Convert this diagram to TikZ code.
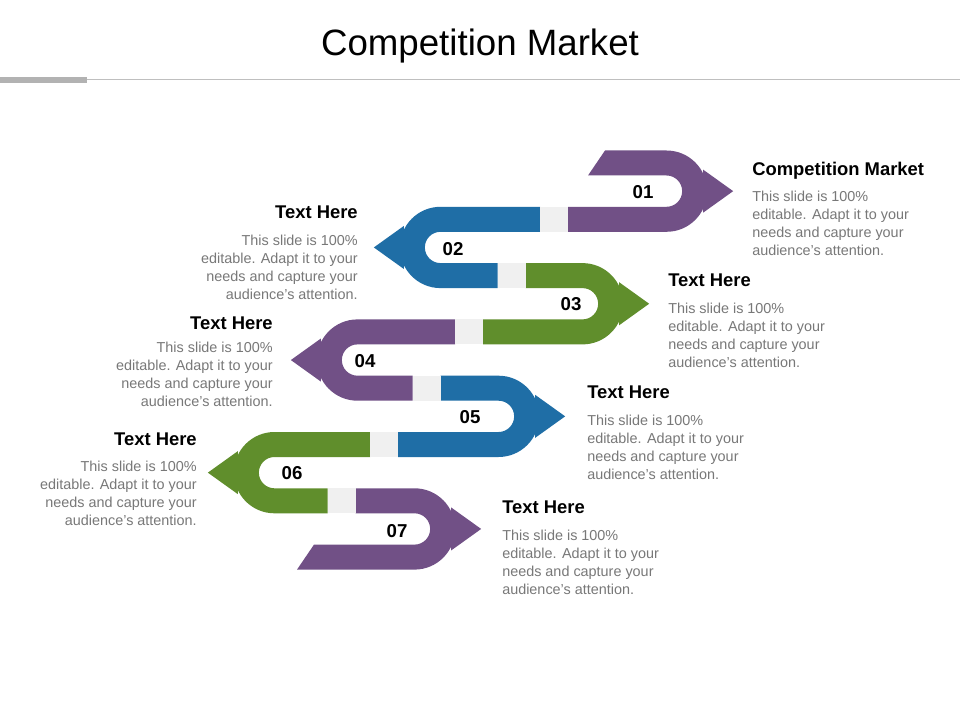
\documentclass[tikz,border=0pt]{standalone}
\usepackage{fontspec}
\setmainfont{Liberation Sans}
\definecolor{cpur}{RGB}{113,80,134}
\definecolor{cblu}{RGB}{31,110,166}
\definecolor{cgrn}{RGB}{96,142,44}
\definecolor{cgap}{RGB}{240,240,240}
\definecolor{cbody}{RGB}{120,120,120}
\newcommand{\Rr}{40.65}
\newcommand{\rr}{15.65}
% right U: cx cy xtop xbot color
\newcommand{\rseg}[5]{%
 \fill[#5] (#3,#2-\Rr) -- (#1,#2-\Rr) arc[start angle=-90,end angle=90,radius=\Rr] -- (#4,#2+\Rr) -- (#4,#2+\rr) -- (#1,#2+\rr) arc[start angle=90,end angle=-90,radius=\rr] -- (#3,#2-\rr) -- cycle;
 \fill[#5] (#1+\Rr-4,#2-21.5) -- (#1+\Rr+26,#2) -- (#1+\Rr-4,#2+21.5) -- cycle;}
\newcommand{\lseg}[5]{%
 \fill[#5] (#3,#2-\Rr) -- (#1,#2-\Rr) arc[start angle=270,end angle=90,radius=\Rr] -- (#4,#2+\Rr) -- (#4,#2+\rr) -- (#1,#2+\rr) arc[start angle=90,end angle=270,radius=\rr] -- (#3,#2-\rr) -- cycle;
 \fill[#5] (#1-\Rr+4,#2-21.5) -- (#1-\Rr-26,#2) -- (#1-\Rr+4,#2+21.5) -- cycle;}
\tikzset{num/.style={font=\fontsize{14pt}{16pt}\selectfont\bfseries},
 head/.style={font=\fontsize{13.8pt}{15pt}\selectfont\bfseries,inner sep=0pt},
 body/.style={font=\fontsize{10.8pt}{13.5pt}\selectfont,text=cbody,inner sep=0pt}}
\newcommand{\bodytxt}{This slide is 100\%\\editable. Adapt it to your\\needs and capture your\\audience's attention.}
\begin{document}
\begin{tikzpicture}[x=0.75pt,y=-0.75pt]
\useasboundingbox (0,0) rectangle (960,720);
\fill[white] (0,0) rectangle (960,720);
\node[font=\fontsize{27.5pt}{32pt}\selectfont] (title) at (480,46) {Competition Market};
\draw[gray!50,line width=0.75pt] (0,80) -- (960,80);
\fill[gray!60] (0,77) rectangle (87,83);
% segments
\fill[cpur] (605,150.5) -- (666.5,150.5) arc[start angle=-90,end angle=90,radius=\Rr] -- (568,231.8) -- (568,206.8) -- (666.5,206.8) arc[start angle=90,end angle=-90,radius=\rr] -- (588,175.5) -- cycle;
\fill[cpur] (666.5+\Rr-4,191.15-21.5) -- (666.5+\Rr+26,191.15) -- (666.5+\Rr-4,191.15+21.5) -- cycle;
\lseg{440.5}{247.45}{540}{497.5}{cblu}
\rseg{582.5}{303.75}{525.5}{483}{cgrn}
\lseg{357.5}{360.05}{455}{412.5}{cpur}
\rseg{498.5}{416.35}{440.5}{398}{cblu}
\lseg{274.5}{472.65}{370}{327.5}{cgrn}
\fill[cpur] (355.5,488.3) -- (414.5,488.3) arc[start angle=-90,end angle=90,radius=\Rr] -- (297,569.6) -- (314,544.6) -- (414.5,544.6) arc[start angle=90,end angle=-90,radius=\rr] -- (355.5,513.3) -- cycle;
\fill[cpur] (414.5+\Rr-4,528.95-21.5) -- (414.5+\Rr+26,528.95) -- (414.5+\Rr-4,528.95+21.5) -- cycle;
% gaps
\fill[cgap] (540,206.8) rectangle (568,231.8);
\fill[cgap] (497.5,263.1) rectangle (525.5,288.1);
\fill[cgap] (455,319.4) rectangle (483,344.4);
\fill[cgap] (412.5,375.7) rectangle (440.5,400.7);
\fill[cgap] (370,432) rectangle (398,457);
\fill[cgap] (327.5,488.3) rectangle (355.5,513.3);
% numbers
\node[num] (n1) at (643,192) {01};
\node[num] (n2) at (453,249) {02};
\node[num] (n3) at (571,304) {03};
\node[num] (n4) at (365,361) {04};
\node[num] (n5) at (470,417) {05};
\node[num] (n6) at (292,473) {06};
\node[num] (n7) at (397,531) {07};
% texts right
\node[head,anchor=north west] (h1) at (752,162) {Competition Market};
\node[body,anchor=north west,align=left] (b1) at (752,191) {\bodytxt};
\node[head,anchor=north west] (h3) at (668,274) {Text Here};
\node[body,anchor=north west,align=left] (b3) at (668,303) {\bodytxt};
\node[head,anchor=north west] (h5) at (587,386) {Text Here};
\node[body,anchor=north west,align=left] (b5) at (587,415) {\bodytxt};
\node[head,anchor=north west] (h7) at (502,501) {Text Here};
\node[body,anchor=north west,align=left] (b7) at (502,530) {\bodytxt};
% texts left
\node[head,anchor=north east] (h2) at (358,206) {Text Here};
\node[body,anchor=north east,align=right] (b2) at (358,235) {\bodytxt};
\node[head,anchor=north east] (h4) at (273,317) {Text Here};
\node[body,anchor=north east,align=right] (b4) at (273,342) {\bodytxt};
\node[head,anchor=north east] (h6) at (197,433) {Text Here};
\node[body,anchor=north east,align=right] (b6) at (197,461) {\bodytxt};
\end{tikzpicture}
\end{document}
